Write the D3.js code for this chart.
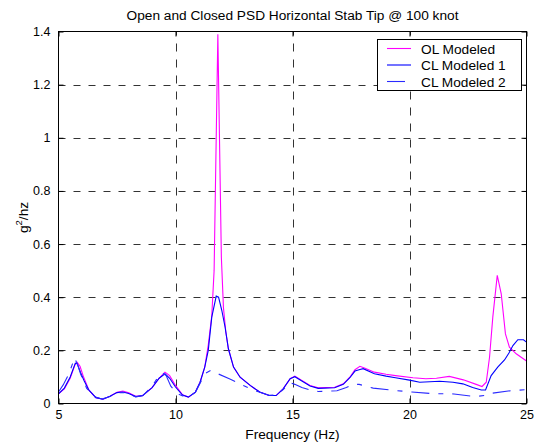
<!DOCTYPE html>
<html>
<head>
<meta charset="utf-8">
<script src="https://cdnjs.cloudflare.com/ajax/libs/d3/7.8.5/d3.min.js"></script>
<style>
  body { margin: 0; background: #fff; }
  svg text { font-family: "Liberation Sans", Arial, sans-serif; fill: #000; }
</style>
</head>
<body>
<div id="chart"></div>
<script>
"use strict";

// Open loop PSD
var olFreq = [5.0, 5.25, 5.5, 5.7, 5.8, 5.92, 6.05, 6.3, 6.6, 6.9, 7.2, 7.5, 7.75, 8.0, 8.3, 8.6, 9.0, 9.3, 9.55, 9.75, 10.0, 10.3, 10.55, 10.85, 11.05, 11.25, 11.4, 11.55, 11.65, 11.81, 11.96, 12.05, 12.15, 12.26, 12.48, 12.76, 13.19, 13.6, 14.0, 14.3, 14.6, 14.9, 15.1, 15.4, 15.75, 16.1, 16.8, 17.17, 17.45, 17.67, 17.88, 18.1, 18.5, 19.0, 19.4, 20.15, 20.7, 21.15, 21.7, 22.3, 22.85, 23.1, 23.28, 23.42, 23.56, 23.75, 23.92, 24.1, 24.27, 24.56, 25.0];
var olPsd  = [0.036, 0.055, 0.095, 0.145, 0.155, 0.14, 0.105, 0.05, 0.022, 0.016, 0.027, 0.042, 0.047, 0.04, 0.027, 0.03, 0.06, 0.095, 0.118, 0.105, 0.068, 0.033, 0.024, 0.043, 0.08, 0.137, 0.22, 0.33, 0.5, 1.39, 0.55, 0.36, 0.27, 0.206, 0.137, 0.099, 0.068, 0.043, 0.03, 0.03, 0.055, 0.093, 0.103, 0.087, 0.068, 0.059, 0.061, 0.074, 0.099, 0.127, 0.14, 0.133, 0.118, 0.11, 0.105, 0.097, 0.093, 0.095, 0.102, 0.089, 0.072, 0.064, 0.08, 0.174, 0.325, 0.482, 0.413, 0.262, 0.212, 0.187, 0.16];

// Closed loop PSD, model 1
var cl1Freq = [5.0, 5.25, 5.5, 5.72, 5.8, 5.95, 6.1, 6.3, 6.6, 6.9, 7.2, 7.5, 7.75, 8.0, 8.3, 8.6, 9.0, 9.3, 9.55, 9.75, 10.0, 10.3, 10.55, 10.85, 11.05, 11.25, 11.4, 11.55, 11.74, 11.84, 11.98, 12.12, 12.26, 12.48, 12.76, 13.19, 13.6, 14.0, 14.3, 14.6, 14.9, 15.1, 15.4, 15.75, 16.1, 16.8, 17.17, 17.45, 17.67, 17.88, 18.02, 18.5, 19.0, 19.4, 20.0, 20.44, 21.29, 21.86, 22.28, 22.7, 23.07, 23.25, 23.49, 23.77, 24.06, 24.25, 24.42, 24.63, 24.87, 25.0];
var cl1Psd  = [0.036, 0.058, 0.1, 0.152, 0.15, 0.115, 0.085, 0.05, 0.022, 0.016, 0.027, 0.041, 0.043, 0.038, 0.026, 0.03, 0.06, 0.095, 0.112, 0.095, 0.062, 0.032, 0.024, 0.043, 0.08, 0.137, 0.2, 0.325, 0.404, 0.4, 0.35, 0.287, 0.206, 0.137, 0.099, 0.068, 0.043, 0.03, 0.03, 0.055, 0.093, 0.101, 0.085, 0.066, 0.057, 0.059, 0.072, 0.097, 0.122, 0.128, 0.131, 0.112, 0.103, 0.097, 0.088, 0.08, 0.084, 0.08, 0.074, 0.06, 0.051, 0.051, 0.105, 0.137, 0.164, 0.19, 0.218, 0.24, 0.24, 0.231];

// Closed loop PSD, model 2
var cl2Freq = [5.0, 5.2, 5.45, 5.6, 5.68, 5.8, 5.95, 6.2, 6.5, 6.85, 7.2, 7.6, 7.9, 8.3, 8.6, 9.0, 9.2, 9.45, 9.6, 9.8, 10.1, 10.5, 10.85, 11.1, 11.3, 11.5, 12.3, 12.9, 13.2, 13.6, 14.0, 14.3, 14.6, 14.9, 15.1, 15.4, 15.8, 16.1, 16.9, 17.3, 17.6, 17.85, 18.45, 19.4, 20.1, 21.0, 21.9, 22.6, 22.9, 23.3, 23.55, 24.4, 25.0];
var cl2Psd  = [0.043, 0.07, 0.112, 0.15, 0.172, 0.15, 0.11, 0.058, 0.027, 0.017, 0.026, 0.041, 0.04, 0.025, 0.029, 0.065, 0.092, 0.115, 0.105, 0.065, 0.036, 0.022, 0.042, 0.085, 0.115, 0.124, 0.093, 0.068, 0.055, 0.042, 0.031, 0.032, 0.052, 0.078, 0.072, 0.06, 0.05, 0.045, 0.048, 0.06, 0.072, 0.072, 0.058, 0.049, 0.043, 0.037, 0.036, 0.028, 0.027, 0.031, 0.039, 0.049, 0.052];

var xTicks = [5, 10, 15, 20, 25];
var yTicks = [0, 0.2, 0.4, 0.6, 0.8, 1, 1.2, 1.4];
var seriesNames = ["OL Modeled", "CL Modeled 1", "CL Modeled 2"];

function zip(f, v) { return f.map(function(d, i) { return {f: d, v: v[i]}; }); }

function drawChart() {
  var width = 535, height = 445;
  var pLeft = 58.5, pRight = 526.5, pTop = 31.5, pBottom = 403.5;

  var svg = d3.select("#chart").append("svg")
      .attr("width", width)
      .attr("height", height);

  var x = d3.scaleLinear().domain([5, 25]).range([pLeft, pRight]);
  var y = d3.scaleLinear().domain([0, 1.4]).range([pBottom, pTop]);

  // grid
  var grid = svg.append("g").attr("stroke", "#333").attr("stroke-width", 1).attr("fill", "none");
  grid.selectAll(".vg").data(xTicks.slice(1, -1)).enter().append("line")
      .attr("x1", function(d) { return Math.round(x(d)) + 0.5; })
      .attr("x2", function(d) { return Math.round(x(d)) + 0.5; })
      .attr("y1", pBottom).attr("y2", pTop)
      .attr("stroke-dasharray", "8,8");
  grid.selectAll(".hg").data(yTicks.slice(1, -1)).enter().append("line")
      .attr("y1", function(d) { return Math.round(y(d)) + 0.5; })
      .attr("y2", function(d) { return Math.round(y(d)) + 0.5; })
      .attr("x1", pLeft).attr("x2", pRight)
      .attr("stroke-dasharray", "7,8");

  // data lines
  var line = d3.line()
      .x(function(d) { return x(d.f); })
      .y(function(d) { return y(d.v); });

  svg.append("path").datum(zip(olFreq, olPsd))
      .attr("fill", "none").attr("stroke", "#ff00ff").attr("stroke-width", 1.1)
      .attr("d", line);
  svg.append("path").datum(zip(cl1Freq, cl1Psd))
      .attr("fill", "none").attr("stroke", "#0000ff").attr("stroke-width", 1.1)
      .attr("d", line);
  svg.append("path").datum(zip(cl2Freq, cl2Psd))
      .attr("fill", "none").attr("stroke", "#2a2aff").attr("stroke-width", 1.1)
      .attr("stroke-dasharray", "18,9,5,9")
      .attr("d", line);

  // axes, ticks pointing inward on all four sides
  var fmt = function(d) { return String(d); };
  svg.append("g").attr("transform", "translate(0," + pBottom + ")")
      .call(d3.axisBottom(x).tickValues(xTicks).tickFormat(fmt).tickSizeInner(-5).tickSizeOuter(0).tickPadding(7));
  svg.append("g").attr("transform", "translate(0," + pTop + ")")
      .call(d3.axisTop(x).tickValues(xTicks).tickFormat("").tickSizeInner(-5).tickSizeOuter(0));
  svg.append("g").attr("transform", "translate(" + pLeft + ",0)")
      .call(d3.axisLeft(y).tickValues(yTicks).tickFormat(fmt).tickSizeInner(-5).tickSizeOuter(0).tickPadding(8));
  svg.append("g").attr("transform", "translate(" + pRight + ",0)")
      .call(d3.axisRight(y).tickValues(yTicks).tickFormat("").tickSizeInner(-5).tickSizeOuter(0));

  svg.selectAll(".tick text").style("font-size", "12.5px");
  svg.selectAll(".domain").remove();
  svg.selectAll(".tick line").attr("stroke", "#000");

  svg.append("rect")
      .attr("x", pLeft).attr("y", pTop)
      .attr("width", pRight - pLeft).attr("height", pBottom - pTop)
      .attr("fill", "none").attr("stroke", "#000").attr("stroke-width", 1);

  // titles
  svg.append("text")
      .attr("x", (pLeft + pRight) / 2).attr("y", 20)
      .attr("text-anchor", "middle").style("font-size", "13.7px")
      .text("Open and Closed PSD Horizontal Stab Tip @ 100 knot");

  svg.append("text")
      .attr("x", (pLeft + pRight) / 2).attr("y", 439)
      .attr("text-anchor", "middle").style("font-size", "13.7px")
      .text("Frequency (Hz)");

  var ylab = svg.append("text")
      .attr("transform", "translate(28," + ((pTop + pBottom) / 2) + ") rotate(-90)")
      .attr("text-anchor", "middle").style("font-size", "13.7px");
  ylab.append("tspan").text("g");
  ylab.append("tspan").attr("dy", -6).style("font-size", "9.5px").text("2");
  ylab.append("tspan").attr("dy", 6).text("/hz");

  // legend
  var legend = svg.append("g");
  legend.append("rect")
      .attr("x", 377.5).attr("y", 39.5).attr("width", 144).attr("height", 51)
      .attr("fill", "#fff").attr("stroke", "#000");
  var legColors = ["#ff00ff", "#0000ff", "#2a2aff"];
  var legDash = [null, null, "18,9,5,9"];
  var legY = [48.5, 65, 81.5];
  seriesNames.forEach(function(name, i) {
    legend.append("line")
        .attr("x1", 387).attr("x2", 411)
        .attr("y1", legY[i]).attr("y2", legY[i])
        .attr("stroke", legColors[i]).attr("stroke-width", 1.1)
        .attr("stroke-dasharray", legDash[i]);
    legend.append("text")
        .attr("x", 421).attr("y", legY[i] + 5)
        .style("font-size", "13.7px")
        .text(name);
  });
}

drawChart();
</script>
</body>
</html>
